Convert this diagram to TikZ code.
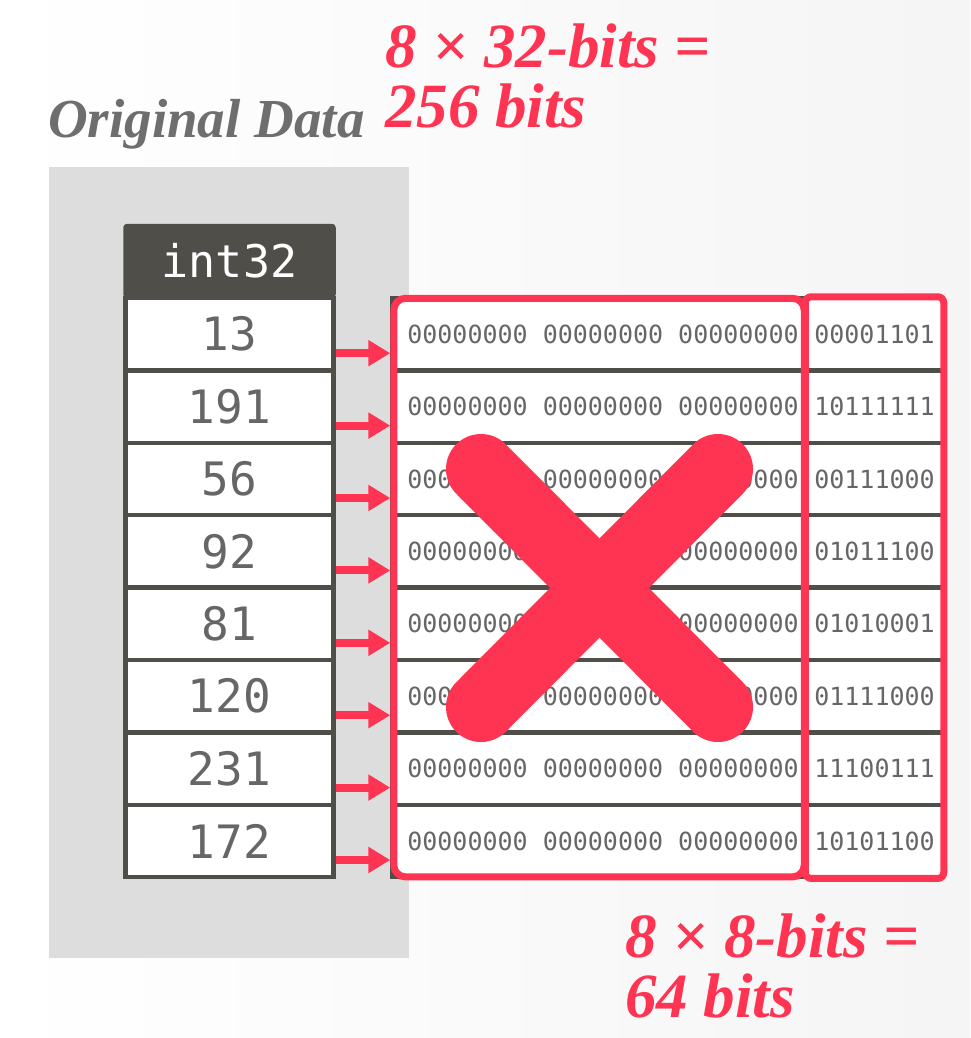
\documentclass[tikz,border=0pt]{standalone}
\usepackage{fontspec}
\setmainfont{Liberation Serif}
\setmonofont{DejaVu Sans Mono}
\usepackage{tikz}
\usetikzlibrary{arrows.meta, positioning, calc, fit}
\definecolor{slideRed}{RGB}{255, 51, 82}
\definecolor{cellDark}{RGB}{80, 78, 73}
\definecolor{panelGray}{RGB}{221, 221, 221}
\definecolor{textGray}{RGB}{102, 102, 102}
\definecolor{titleGray}{RGB}{110, 110, 110}

\begin{document}
\begin{tikzpicture}[
    x=1pt, y=-1pt,
    valbox/.style={draw=cellDark, line width=4.5pt, fill=white, minimum width=208pt, minimum height=72.4pt, inner sep=0pt, text=textGray, font=\fontsize{46}{46}\selectfont\ttfamily},
    headbox/.style={valbox, fill=cellDark, text=white, minimum height=70pt, rounded corners=2pt, font=\fontsize{45}{45}\selectfont\ttfamily},
    bitbox/.style={draw=cellDark, line width=4.5pt, fill=white, minimum height=72.4pt, inner sep=0pt, text=textGray, font=\fontsize{25}{25}\selectfont\ttfamily},
    hibox/.style={bitbox, minimum width=414pt},
    lobox/.style={bitbox, minimum width=137pt},
    redframe/.style={draw=slideRed, line width=7pt},
    arrow/.style={-{Triangle[length=22pt, width=25pt]}, line width=8pt, draw=slideRed},
    xmark/.style={line width=70pt, line cap=round, draw=slideRed},
    bigtext/.style={align=left, inner sep=0pt, text=slideRed, font=\fontsize{63}{60}\selectfont\bfseries\itshape},
    titletext/.style={inner sep=0pt, text=titleGray, font=\fontsize{55}{55}\selectfont\bfseries\itshape}
]

\useasboundingbox (0,0) rectangle (970,1038);
\shade[left color=white, right color=black!4] (0,0) rectangle (970,1038);

% Original data panel
\fill[panelGray] (49,167) rectangle (409,958);
\node[titletext, anchor=base west] (title) at (48,137) {Original Data};

% int32 column
\node[headbox] (head) at (229.5,261) {int32};
\node[valbox] (v1) at (229.5,334.2) {13};
\node[valbox] (v2) at (229.5,406.6) {191};
\node[valbox] (v3) at (229.5,479.0) {56};
\node[valbox] (v4) at (229.5,551.4) {92};
\node[valbox] (v5) at (229.5,623.8) {81};
\node[valbox] (v6) at (229.5,696.2) {120};
\node[valbox] (v7) at (229.5,768.6) {231};
\node[valbox] (v8) at (229.5,841.0) {172};

% Bit patterns: upper 24 bits
\node[hibox] (hi1) at (599,334.2) {\hspace{8pt}00000000 00000000 00000000};
\node[hibox] (hi2) at (599,406.6) {\hspace{8pt}00000000 00000000 00000000};
\node[hibox] (hi3) at (599,479.0) {\hspace{8pt}00000000 00000000 00000000};
\node[hibox] (hi4) at (599,551.4) {\hspace{8pt}00000000 00000000 00000000};
\node[hibox] (hi5) at (599,623.8) {\hspace{8pt}00000000 00000000 00000000};
\node[hibox] (hi6) at (599,696.2) {\hspace{8pt}00000000 00000000 00000000};
\node[hibox] (hi7) at (599,768.6) {\hspace{8pt}00000000 00000000 00000000};
\node[hibox] (hi8) at (599,841.0) {\hspace{8pt}00000000 00000000 00000000};

% Bit patterns: lower 8 bits
\node[lobox] (lo1) at (874.5,334.2) {00001101};
\node[lobox] (lo2) at (874.5,406.6) {10111111};
\node[lobox] (lo3) at (874.5,479.0) {00111000};
\node[lobox] (lo4) at (874.5,551.4) {01011100};
\node[lobox] (lo5) at (874.5,623.8) {01010001};
\node[lobox] (lo6) at (874.5,696.2) {01111000};
\node[lobox] (lo7) at (874.5,768.6) {11100111};
\node[lobox] (lo8) at (874.5,841.0) {10101100};

% Crossed out
\draw[xmark] (481,469) -- (718,707);
\draw[xmark] (718,469) -- (481,707);

% Red frames
\node[redframe, rounded corners=12pt, inner xsep=-4pt, inner ysep=-2.5pt, fit=(hi1)(hi8)] (hiframe) {};
\node[redframe, rounded corners=6pt, inner xsep=-1.5pt, inner ysep=-1pt, fit=(lo1)(lo8)] (loframe) {};

% Arrows
\draw[arrow] ([yshift=-19pt]v1.east) -- ([yshift=-19pt]v1.east -| hiframe.west);
\draw[arrow] ([yshift=-19pt]v2.east) -- ([yshift=-19pt]v2.east -| hiframe.west);
\draw[arrow] ([yshift=-19pt]v3.east) -- ([yshift=-19pt]v3.east -| hiframe.west);
\draw[arrow] ([yshift=-19pt]v4.east) -- ([yshift=-19pt]v4.east -| hiframe.west);
\draw[arrow] ([yshift=-19pt]v5.east) -- ([yshift=-19pt]v5.east -| hiframe.west);
\draw[arrow] ([yshift=-19pt]v6.east) -- ([yshift=-19pt]v6.east -| hiframe.west);
\draw[arrow] ([yshift=-19pt]v7.east) -- ([yshift=-19pt]v7.east -| hiframe.west);
\draw[arrow] ([yshift=-19pt]v8.east) -- ([yshift=-19pt]v8.east -| hiframe.west);

% Sizes (base = last line)
\node[bigtext, anchor=base west] (size32) at (385,128) {8 × 32-bits =\\256 bits};
\node[bigtext, anchor=base west] (size8) at (625,1017) {8 × 8-bits =\\64 bits};

\end{tikzpicture}
\end{document}
